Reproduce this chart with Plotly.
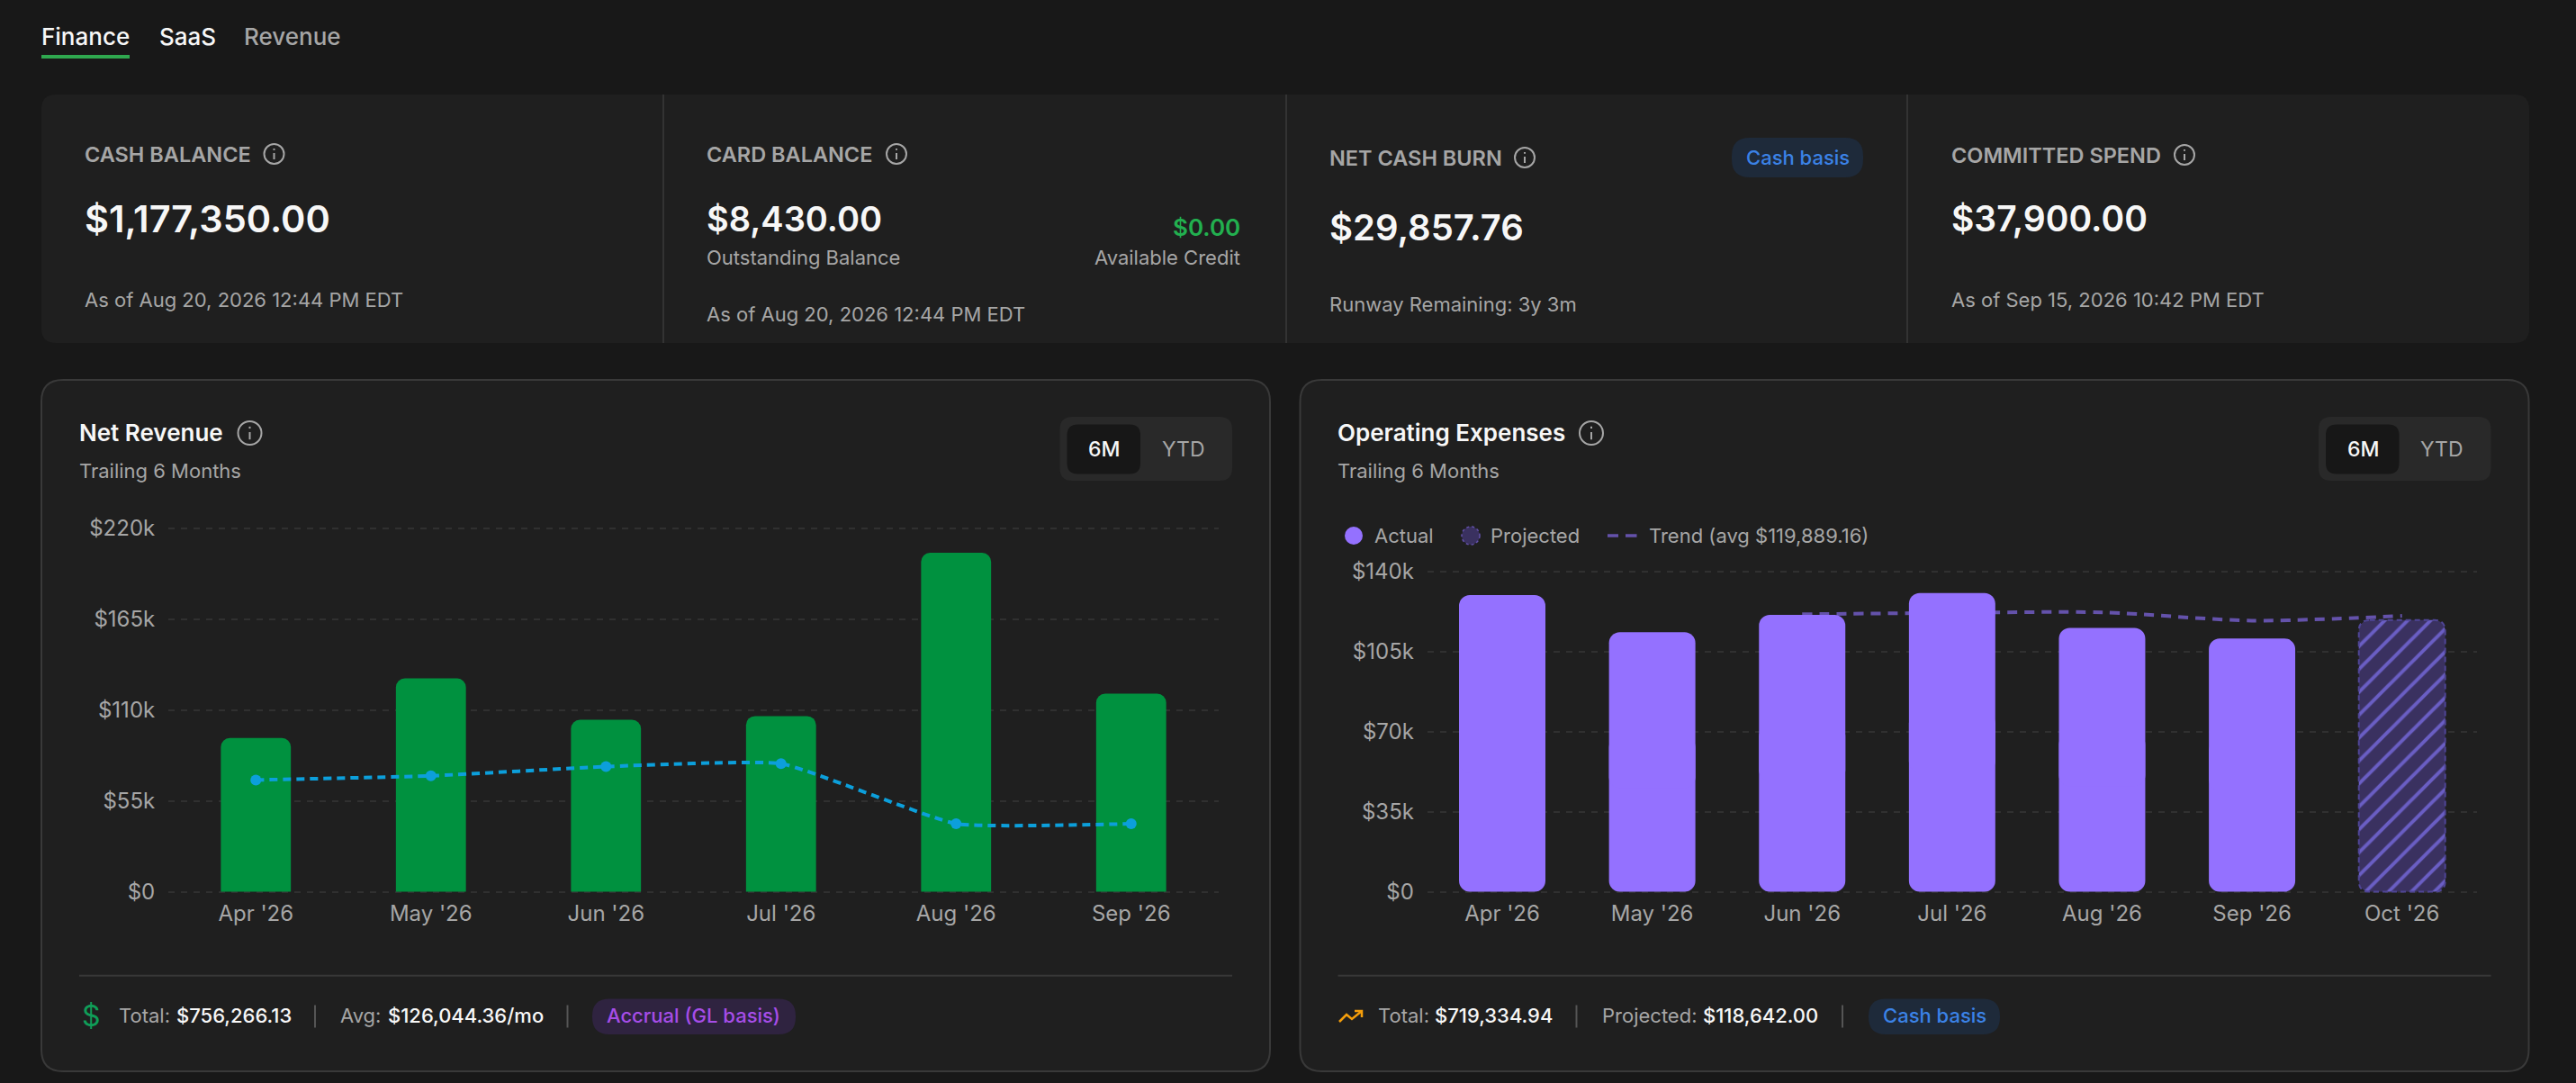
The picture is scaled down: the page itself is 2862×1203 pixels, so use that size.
import plotly.graph_objects as go

W = 2862
H = 1203

# data (dollars)
rev_months = ["Apr '26", "May '26", "Jun '26", "Jul '26", "Aug '26", "Sep '26"]
rev_values = [93100, 129200, 104100, 106400, 205300, 120000]
rev_line = [67700, 70200, 75800, 77600, 41200, 41200]
rev_ticks = [0, 55000, 110000, 165000, 220000]
rev_ticktext = ["$0", "$55k", "$110k", "$165k", "$220k"]

exp_months = ["Apr '26", "May '26", "Jun '26", "Jul '26", "Aug '26", "Sep '26", "Oct '26"]
exp_actual = [129800, 113500, 121100, 130700, 115400, 110800]
exp_projected = [118800]
exp_trend_months = ["Jun '26", "Jul '26", "Aug '26", "Sep '26", "Oct '26"]
exp_trend = [121400, 122000, 122200, 118600, 120700]
exp_ticks = [0, 35000, 70000, 105000, 140000]
exp_ticktext = ["$0", "$35k", "$70k", "$105k", "$140k"]

FONT = "Inter"
BG = "#181818"
CARD = "#1f1f1f"
BORDER = "#393939"
WHITE = "#f7f7f7"
GRAY = "#a6a6a6"
GREEN_BAR = "#00913f"
BLUE_LINE = "#0c9fdb"
PURPLE = "#9471ff"
PURPLE_DARK = "#3a3160"
PURPLE_LINE = "#6452ab"

# opex plot box in pixels
EXP_LEFT, EXP_RIGHT = 1585.7, 2752
EXP_BOTTOM, EXP_TOP = 992.6, 633
EXP_RANGE = [-800, 140800]
EXP_BAR_WIDTH = 0.576


def px(x):
    return x / W


def py(y):
    return 1 - y / H


shapes = []
annotations = []


def text(x, y, s, size=22, color=GRAY, anchor="left", weight=400):
    # annotations sit a touch right of their anchor
    if anchor == "left":
        x -= 1.5
    annotations.append(dict(
        x=px(x), y=py(y), xref="paper", yref="paper", text=s, showarrow=False,
        xanchor=anchor, yanchor="middle", borderpad=0,
        font=dict(family=FONT, size=size, color=color, weight=weight),
    ))


def round_rect(x0, y0, x1, y1, r, fill, line=None, lw=0, dash="solid", layer="below"):
    X0, X1, Y0, Y1 = px(x0), px(x1), py(y0), py(y1)
    rx, ry = r / W, r / H
    path = (f"M {X0+rx} {Y0} L {X1-rx} {Y0} Q {X1} {Y0} {X1} {Y0-ry} "
            f"L {X1} {Y1+ry} Q {X1} {Y1} {X1-rx} {Y1} "
            f"L {X0+rx} {Y1} Q {X0} {Y1} {X0} {Y1+ry} "
            f"L {X0} {Y0-ry} Q {X0} {Y0} {X0+rx} {Y0} Z")
    shapes.append(dict(type="path", path=path, xref="paper", yref="paper", layer=layer,
                       fillcolor=fill, line=dict(color=line or fill, width=lw, dash=dash)))


def seg(x0, y0, x1, y1, color, width=2, dash="solid"):
    shapes.append(dict(type="line", xref="paper", yref="paper", layer="below",
                       x0=px(x0), x1=px(x1), y0=py(y0), y1=py(y1),
                       line=dict(color=color, width=width, dash=dash)))


def circle(cx, cy, r, fill="rgba(0,0,0,0)", line=None, lw=0, dash="solid"):
    shapes.append(dict(type="circle", xref="paper", yref="paper", layer="below",
                       x0=px(cx - r), x1=px(cx + r), y0=py(cy - r), y1=py(cy + r),
                       fillcolor=fill, line=dict(color=line or fill, width=lw, dash=dash)))


def info_icon(cx, cy, r=11, color=GRAY):
    circle(cx, cy, r, line=color, lw=2)
    seg(cx, cy - 1, cx, cy + r * 0.55, color, 2)
    seg(cx, cy - r * 0.55, cx, cy - r * 0.38, color, 2)


def polyline(pts, color, width=2.5):
    path = "M " + " L ".join(f"{px(a)} {py(b)}" for a, b in pts)
    shapes.append(dict(type="path", path=path, xref="paper", yref="paper", layer="below",
                       line=dict(color=color, width=width)))


# top tabs
text(46, 40, "Finance", 26, WHITE, weight=500)
text(177, 40, "SaaS", 26, WHITE, weight=500)
text(271.5, 40, "Revenue", 26, GRAY, weight=500)
seg(46, 63, 144, 63, "#2fa84f", 4)

# kpi strip
round_rect(46, 105, 2810, 381, 16, CARD)
for xd in [737, 1429, 2119]:
    seg(xd, 105, xd, 381, "#333333", 2)

text(94.5, 171, "CASH BALANCE", 23.5, GRAY, weight=600)
info_icon(304.5, 171)
text(94.5, 243, "$1,177,350.00", 41.5, WHITE, weight=600)
text(94.5, 333, "As of Aug 20, 2026 12:44 PM EDT")

text(786, 171, "CARD BALANCE", 23.5, GRAY, weight=600)
info_icon(996, 171)
text(786, 243, "$8,430.00", 38, WHITE, weight=600)
text(786, 286, "Outstanding Balance")
text(1379, 252, "$0.00", 26, "#22b04f", "right", 600)
text(1379, 286, "Available Credit", 22, GRAY, "right")
text(786, 349, "As of Aug 20, 2026 12:44 PM EDT")

text(1477, 175, "NET CASH BURN", 23.5, GRAY, weight=600)
info_icon(1694, 175)
round_rect(1924, 153, 2070, 197, 20, "#1e2a3a")
text(1997, 175, "Cash basis", 22, "#3b82e6", "center", 500)
text(1477, 252, "$29,857.76", 40, WHITE, weight=600)
text(1477, 338, "Runway Remaining: 3y 3m")

text(2168.5, 172, "COMMITTED SPEND", 23.5, GRAY, weight=600)
info_icon(2427, 172)
text(2168.5, 243, "$37,900.00", 39, WHITE, weight=600)
text(2168.5, 333, "As of Sep 15, 2026 10:42 PM EDT")

# chart panels
for x0, x1, title, ix in [(46, 1411, "Net Revenue", 277.5), (1444.5, 2809.5, "Operating Expenses", 1768)]:
    round_rect(x0, 422, x1, 1190, 24, CARD, BORDER, 2)
    text(x0 + 42, 481, title, 26, WHITE, weight=600)
    info_icon(ix, 481, 13)
    text(x0 + 42, 523, "Trailing 6 Months")
    round_rect(x1 - 233.5, 463, x1 - 42, 534, 14, "#292929")
    round_rect(x1 - 225.5, 471.5, x1 - 144, 526.5, 12, "#171717")
    text(x1 - 184.5, 499, "6M", 23, WHITE, "center", 500)
    text(x1 - 96.5, 499, "YTD", 23, GRAY, "center", 400)
    seg(x0 + 42, 1083.7, x1 - 42, 1083.7, "#383838", 2)

# net revenue footer
text(101.5, 1128, "$", 32, "#0f9d58", "center")
text(132.5, 1128, "Total:")
text(196, 1128, "$756,266.13", 22, WHITE, weight=500)
seg(350, 1116.5, 350, 1141.5, "#555555", 2)
text(379, 1128, "Avg:")
text(431, 1128, "$126,044.36/mo", 22, WHITE, weight=500)
seg(630.5, 1116.5, 630.5, 1141.5, "#555555", 2)
round_rect(658, 1109.5, 884, 1149, 19, "#2f2340")
text(771, 1128, "Accrual (GL basis)", 22, "#a64de8", "center", 500)

# operating expenses footer
polyline([(1488, 1135), (1496, 1127), (1502, 1132), (1513, 1123)], "#f59e0b")
polyline([(1505, 1123), (1513, 1123), (1513, 1130)], "#f59e0b")
text(1531, 1128, "Total:")
text(1594, 1128, "$719,334.94", 22, WHITE, weight=500)
seg(1751.5, 1116.5, 1751.5, 1141.5, "#555555", 2)
text(1780.5, 1128, "Projected:")
text(1892, 1128, "$118,642.00", 22, WHITE, weight=500)
seg(2047, 1116.5, 2047, 1141.5, "#555555", 2)
round_rect(2076, 1109.5, 2222, 1149, 19, "#1e2a3a")
text(2149, 1128, "Cash basis", 22, "#3b82e6", "center", 500)

# operating expenses legend
circle(1504, 595, 10, PURPLE)
text(1527, 595, "Actual")
circle(1634, 595, 10, PURPLE_DARK, PURPLE_LINE, 1.5, "dot")
text(1656.5, 595, "Projected")
seg(1786, 595, 1798, 595, PURPLE_LINE, 3.5)
seg(1806, 595, 1818.5, 595, PURPLE_LINE, 3.5)
text(1832, 595, "Trend (avg $119,889.16)")

# dashed outline of the projected bar, bars can't dash their own line
step = (EXP_RIGHT - EXP_LEFT) / len(exp_months)
per_dollar = (EXP_BOTTOM - EXP_TOP) / (EXP_RANGE[1] - EXP_RANGE[0])
oct_center = EXP_LEFT + step * (exp_months.index("Oct '26") + 0.5)
oct_half = step * EXP_BAR_WIDTH / 2
round_rect(oct_center - oct_half, EXP_BOTTOM - per_dollar * (exp_projected[0] - EXP_RANGE[0]),
           oct_center + oct_half, EXP_BOTTOM - per_dollar * (0 - EXP_RANGE[0]),
           12, "rgba(0,0,0,0)", "#4f4596", 2, "6px,4px", "above")

fig = go.Figure()

# net revenue
fig.add_trace(go.Bar(x=rev_months, y=rev_values, marker=dict(color=GREEN_BAR, cornerradius=10, line=dict(width=0)),
                     width=0.4, xaxis="x", yaxis="y"))
fig.add_trace(go.Scatter(x=rev_months, y=rev_line, mode="lines+markers",
                         line=dict(color=BLUE_LINE, width=4, dash="9px,6px", shape="spline", smoothing=0.4),
                         marker=dict(color=BLUE_LINE, size=12),
                         xaxis="x", yaxis="y"))

# trend sits on the lower subplot so the bars cover it
fig.add_trace(go.Scatter(x=exp_trend_months, y=exp_trend, mode="lines",
                         line=dict(color=PURPLE_LINE, width=4, dash="11px,8px", shape="spline", smoothing=0.8),
                         xaxis="x2", yaxis="y2"))


# two halves that overlap, each rounds its far end, so all four corners come out round
def add_round_bars(months, values, marker):
    for sign, share in [(-1, 0.6), (1, 0.6)]:
        base = [v * (1 - share) if sign == 1 else v * share for v in values]
        y = [sign * v * share for v in values]
        fig.add_trace(go.Bar(x=months, y=y, base=base, marker=marker, width=EXP_BAR_WIDTH,
                             xaxis="x3", yaxis="y3"))


add_round_bars(exp_months[:6], exp_actual, dict(color=PURPLE, cornerradius=12, line=dict(width=0)))
add_round_bars(exp_months[6:], exp_projected, dict(
    color=PURPLE_DARK, cornerradius=12, line=dict(width=0),
    pattern=dict(shape="/", size=18, solidity=0.22, fgcolor="#6a5ec4", bgcolor=PURPLE_DARK, fillmode="replace")))


tickfont = dict(family=FONT, size=24, color=GRAY)
grid = dict(showgrid=True, gridcolor="#303030", gridwidth=1.5, griddash="7px,7px", zeroline=False, automargin=False,
            showline=False, ticks="outside", ticklen=9, tickcolor="rgba(0,0,0,0)", tickfont=tickfont)
xcommon = dict(type="category", showgrid=False, zeroline=False, showline=False, ticks="outside", automargin=False,
               ticklen=1, tickcolor="rgba(0,0,0,0)", tickfont=tickfont)

fig.update_layout(
    template="none",
    width=W, height=H,
    margin=dict(l=0, r=0, t=0, b=0),
    autosize=False,
    paper_bgcolor=BG,
    plot_bgcolor="rgba(0,0,0,0)",
    barmode="overlay",
    showlegend=False,
    shapes=shapes,
    annotations=annotations,
    xaxis=dict(domain=[px(187), px(1354)], categoryorder="array", categoryarray=rev_months,
               range=[-0.5, 5.5], anchor="y", **xcommon),
    # ranges run a little past the ticks so the end gridlines get drawn
    yaxis=dict(domain=[py(992.6), py(585)], range=[-1100, 221100], tickvals=rev_ticks, ticktext=rev_ticktext,
               anchor="x", **grid),
    xaxis2=dict(domain=[px(EXP_LEFT), px(EXP_RIGHT)], categoryorder="array", categoryarray=exp_months,
                range=[-0.5, 6.5], anchor="y2", **xcommon),
    yaxis2=dict(domain=[py(EXP_BOTTOM), py(EXP_TOP)], range=EXP_RANGE, tickvals=exp_ticks, ticktext=exp_ticktext,
                anchor="x2", **grid),
    xaxis3=dict(domain=[px(EXP_LEFT), px(EXP_RIGHT)], type="category", categoryorder="array", categoryarray=exp_months,
                range=[-0.5, 6.5], overlaying="x2", anchor="y3", visible=False),
    yaxis3=dict(domain=[py(EXP_BOTTOM), py(EXP_TOP)], range=EXP_RANGE, overlaying="y2", anchor="x3", visible=False),
)

fig.write_html("out.html", config=dict(displayModeBar=False),
               post_script="document.body.style.margin='0';document.body.style.overflow='hidden';")
